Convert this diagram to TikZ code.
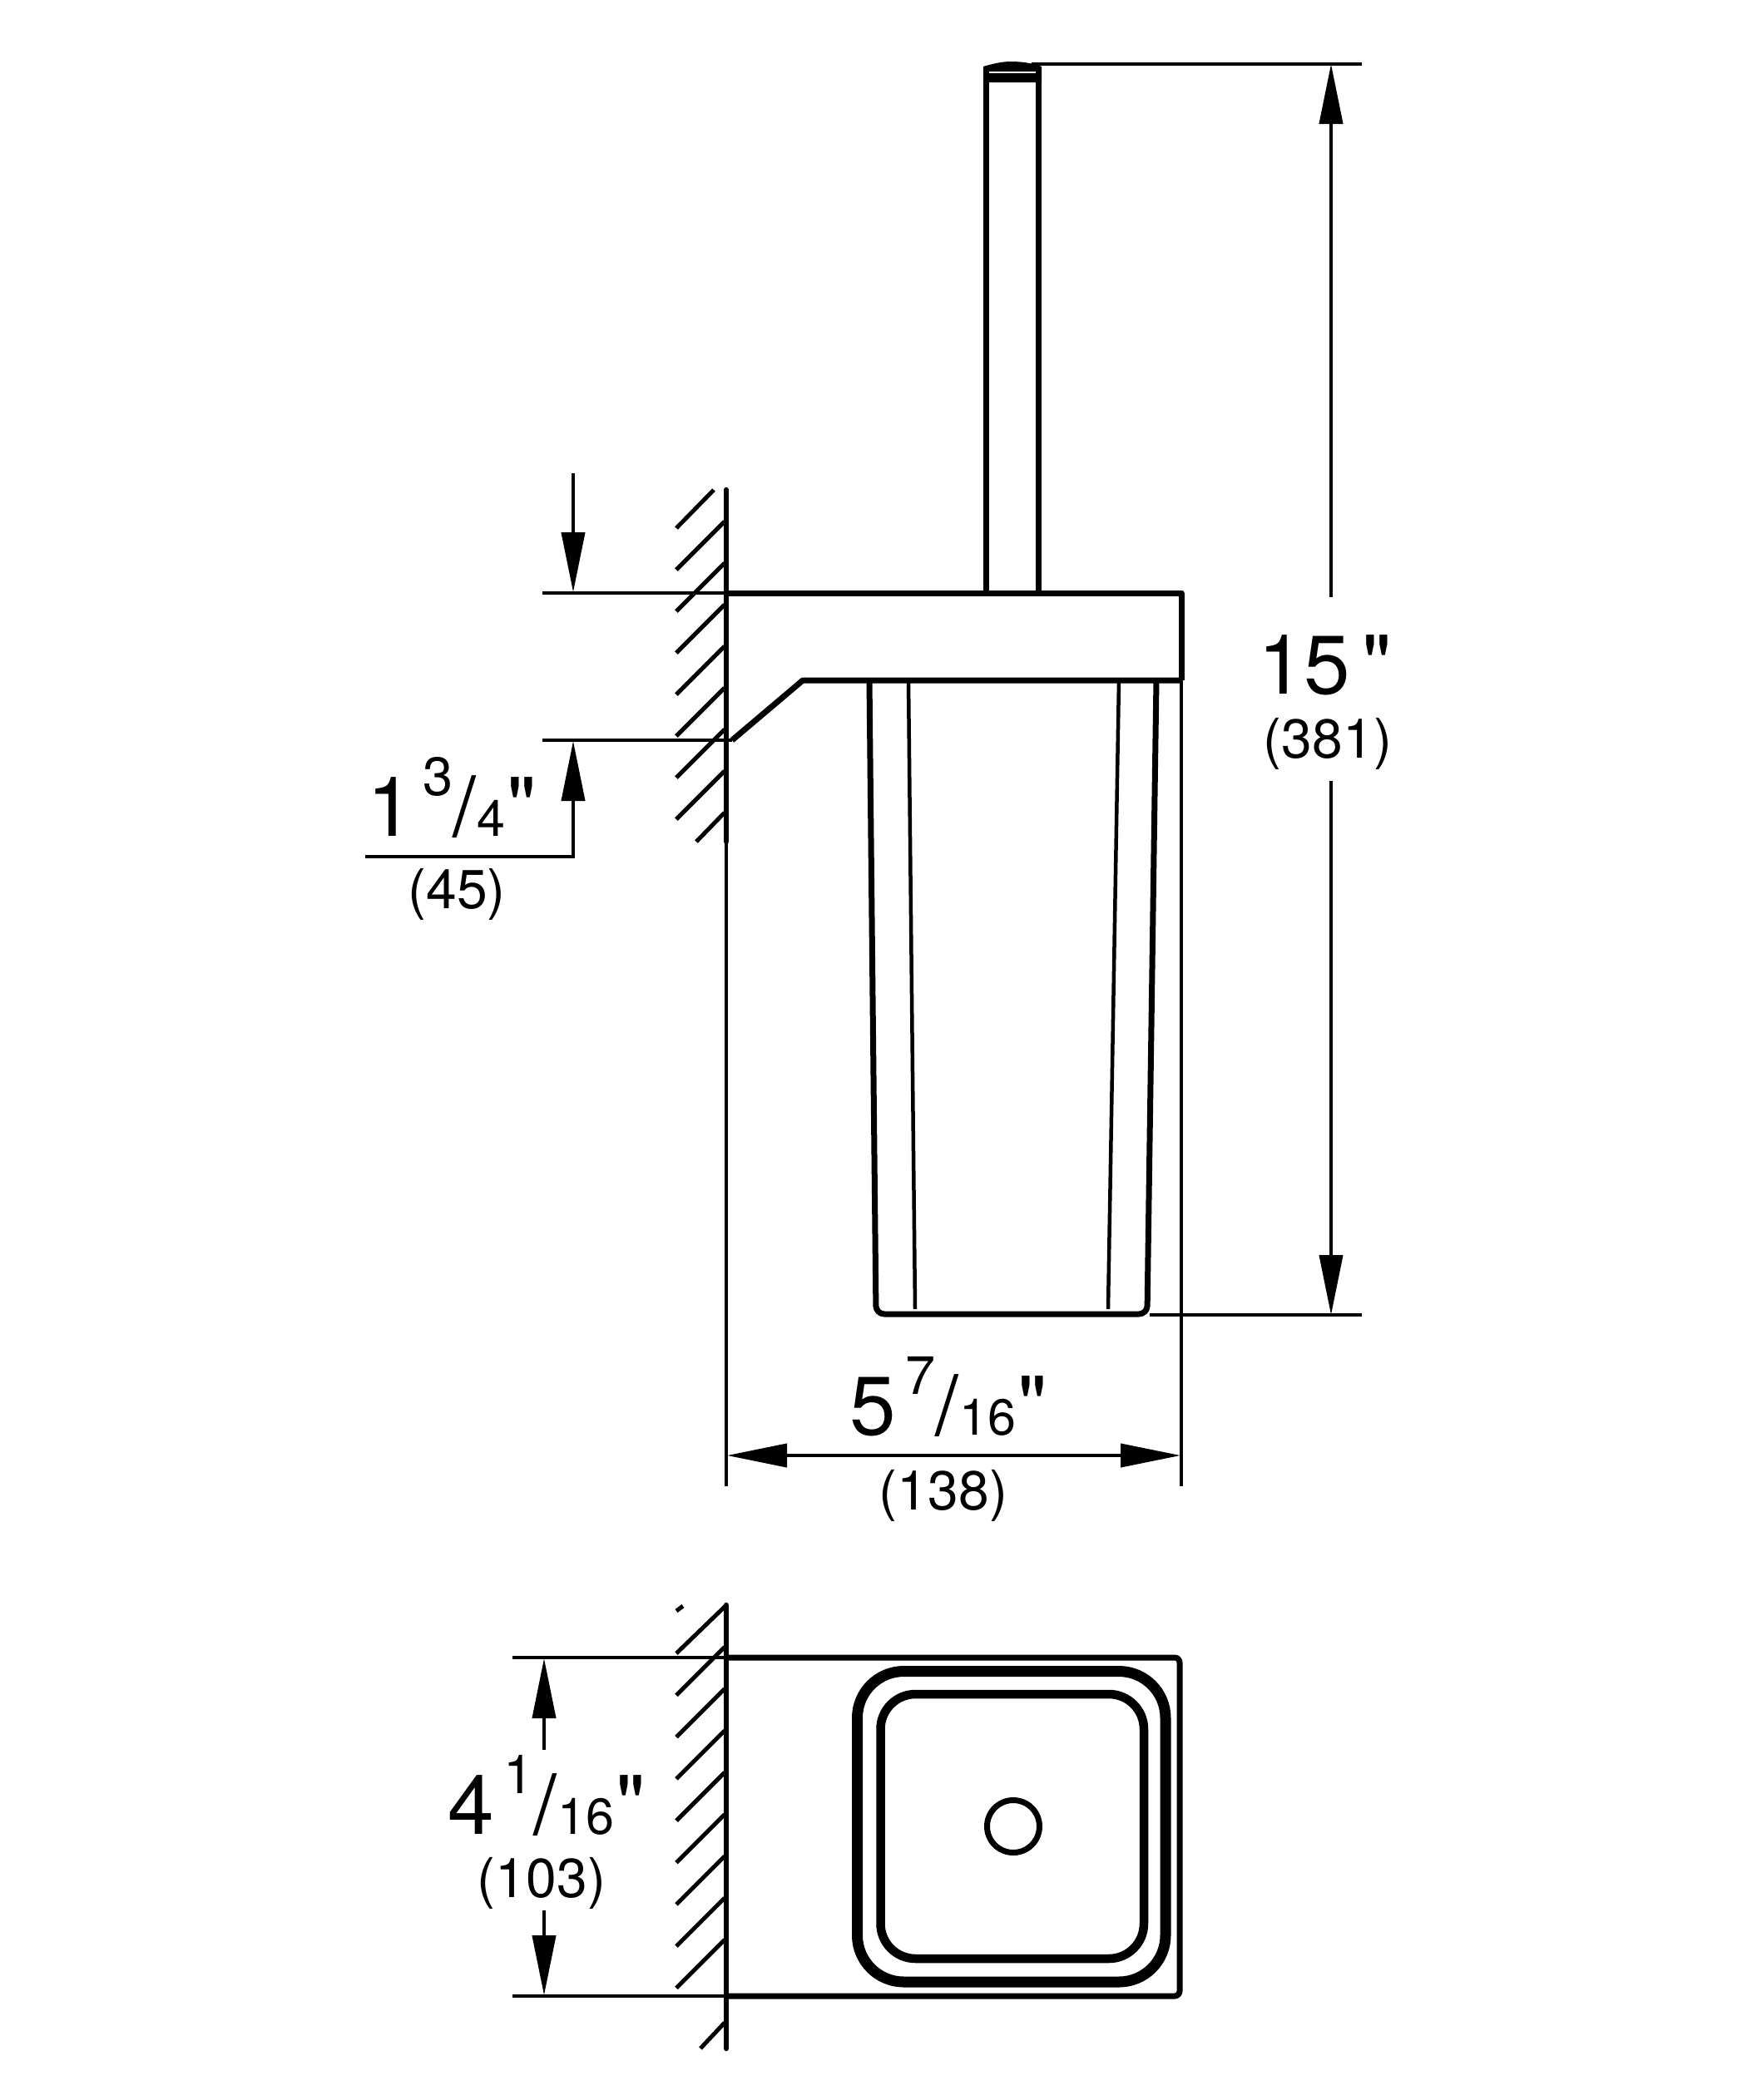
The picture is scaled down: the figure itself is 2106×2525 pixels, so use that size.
\documentclass[tikz,border=0pt]{standalone}
\usepackage{fontspec}
\newfontfamily\dimfont{TeX Gyre Heros}
\usetikzlibrary{arrows.meta}
\newcommand{\sized}[2]{{\dimfont\fontsize{#1}{#1}\selectfont #2}}
\newcommand{\fracdim}[3]{\sized{100}{#1}\hspace{12pt}\raisebox{49pt}{\sized{65}{#2}}\sized{100}{/}\hspace{1pt}\sized{61}{#3}\hspace{2pt}\sized{100}{"}}
\tikzset{
dimline/.style={line width=4pt},
dimarrow/.style={line width=4pt, -{Triangle[length=72pt,width=28pt]}},
wall/.style={line width=6.5pt, line cap=round},
hatch/.style={line width=5pt},
body/.style={line width=7pt, line join=round},
thinbody/.style={line width=4.5pt},
mmtext/.style={anchor=base, inner sep=0pt, font=\dimfont\fontsize{66}{66}\selectfont},
bigtext/.style={anchor=base west, inner sep=0pt}
}

\begin{document}
\begin{tikzpicture}[x=1pt, y=-1pt]
	\useasboundingbox (0,0) rectangle (2106,2525);
	% side view
	\draw[body] (1185.5,85) -- (1185.5,713);
	\draw[body] (1248.5,85) -- (1248.5,713);
	\fill (1182,80) .. controls (1192,77) and (1204,74) .. (1215,74) .. controls (1228,74) and (1242,76) .. (1252,80) -- (1252,99) -- (1182,99) -- cycle;
	\draw[white, line width=1.5pt] (1189,87) -- (1245,87);
	\draw[wall] (873,589) -- (873,1012);
	\draw[thinbody] (873,1012) -- (873,1787);
	\foreach \k in {1,...,7}
		\draw[hatch] (813,635+50*\k) -- (871,577+50*\k);
	\draw[hatch] (813,635) -- (858,589);
	\draw[hatch] (837,1012) -- (871,977);
	\draw[body] (873,713) -- (1420,713) -- (1420,818);
	\draw[body] (880,890) -- (965,818) -- (1420,818);
	\draw[body, rounded corners=10pt] (1045,818) -- (1053,1580) -- (1379,1580) -- (1390,818);
	\draw[thinbody] (1092,818) -- (1100,1574);
	\draw[thinbody] (1345,818) -- (1332,1574);
	\draw[thinbody] (1420,818) -- (1420,1787);
	% dimensions
	\coordinate (topext) at (1600,77);
	\coordinate (botext) at (1600,1581);
	\draw[dimline] (1240,77) -- (1637,77);
	\draw[dimline] (1382,1581) -- (1637,1581);
	\node[bigtext] (height) at (1512,834) {\sized{100}{15}\hspace{14pt}\sized{100}{"}};
	\node[mmtext] (heightmm) at (1596,911) {(381)};
	\draw[dimarrow] (1600,718) -- (topext);
	\draw[dimarrow] (1600,939) -- (botext);
	\draw[dimline] (652,713) -- (873,713);
	\draw[dimline] (652,890) -- (880,890);
	\coordinate (uptip) at (689,712);
	\coordinate (lowtip) at (689,891);
	\draw[dimarrow] (689,569) -- (uptip);
	\draw[dimarrow] (439,1030) -- (689,1030) -- (lowtip);
	\node[bigtext] (depth) at (441,1005) {\fracdim{1}{3}{4}};
	\node[mmtext] (depthmm) at (549,1092) {(45)};
	\coordinate (wallleft) at (874,1750);
	\coordinate (bodyright) at (1419,1750);
	\draw[line width=4pt, {Triangle[length=72pt,width=28pt]}-{Triangle[length=72pt,width=28pt]}] (wallleft) -- (bodyright);
	\node[bigtext] (width) at (1021,1725) {\fracdim{5}{7}{16}};
	\node[mmtext] (widthmm) at (1134,1815) {(138)};
	% top view
	\draw[wall] (873,1930) -- (873,2463);
	\foreach \k in {1,...,8}
		\draw[hatch] (813,1988+50.3*\k) -- (871,1930+50.3*\k);
	\draw[hatch] (813,1988) -- (872,1931);
	\draw[hatch] (813,1937) -- (821,1931);
	\draw[hatch] (842,2463) -- (871,2432);
	\draw[body, rounded corners=6pt] (873,1993) -- (1418,1993) -- (1418,2400) -- (873,2400);
	\draw[line width=13pt, rounded corners=56pt] (1030.5,2009.5) rectangle (1401,2383);
	\draw[line width=10.5pt, rounded corners=42pt] (1058.5,2037) rectangle (1375,2355);
	\draw[line width=7pt] (1218,2196) circle (31.5pt);
	\draw[dimline] (616,1993) -- (873,1993);
	\draw[dimline] (616,2400) -- (873,2400);
	\coordinate (toptip) at (654,1994);
	\coordinate (bottip) at (654,2399);
	\draw[dimarrow] (654,2104) -- (toptip);
	\draw[dimarrow] (654,2297) -- (bottip);
	\node[bigtext] (size) at (538,2205) {\fracdim{4}{1}{16}};
	\node[mmtext] (sizemm) at (651,2281) {(103)};
\end{tikzpicture}
\end{document}
